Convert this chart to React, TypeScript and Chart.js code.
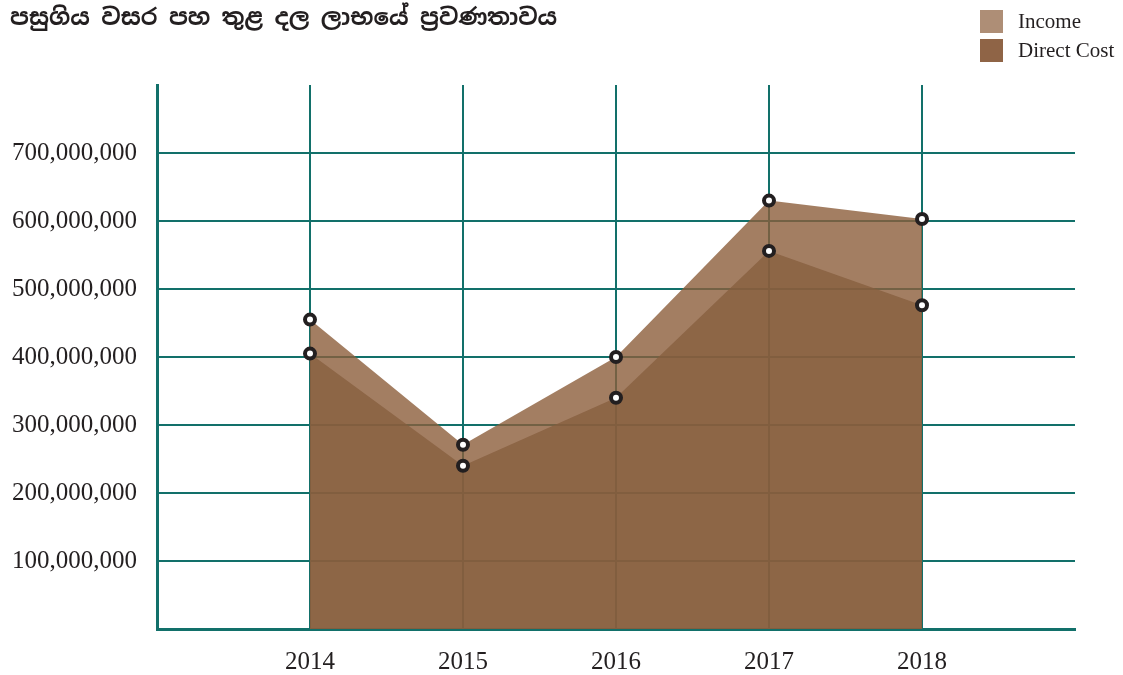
import React, { useEffect, useRef } from "react";
import { Chart, registerables } from "chart.js";

Chart.register(...registerables);

const TITLE = "පසුගිය වසර පහ තුළ දල ලාභයේ ප්‍රවණතාවය";
const YEARS = [2014, 2015, 2016, 2017, 2018];
const INCOME = [455000000, 271000000, 400000000, 630000000, 603000000];
const DIRECT_COST = [405000000, 240000000, 340000000, 556000000, 476000000];
const SERIES_NAMES = ["Income", "Direct Cost"];

const GRID = "#12706a";
const SERIF = "'Liberation Serif', 'Times New Roman', serif";

export default function App() {
  const ref = useRef<HTMLCanvasElement | null>(null);

  useEffect(() => {
    if (!ref.current) return;
    const pts = (vals: number[]) => YEARS.map((y, i) => ({ x: y, y: vals[i] }));
    const pointStyle = {
      pointRadius: 5,
      pointHoverRadius: 5,
      pointBorderWidth: 4,
      pointBorderColor: "#231f20",
      pointBackgroundColor: "#ffffff",
      borderWidth: 0,
      borderColor: "rgba(0,0,0,0)",
      tension: 0,
    };
    const chart = new Chart(ref.current, {
      type: "line",
      data: {
        datasets: [
          {
            label: SERIES_NAMES[1],
            data: pts(DIRECT_COST),
            fill: "origin",
            backgroundColor: "rgba(134,93,62,0.75)",
            ...pointStyle,
          },
          {
            label: SERIES_NAMES[0],
            data: pts(INCOME),
            fill: "origin",
            backgroundColor: "rgba(140,94,59,0.8)",
            ...pointStyle,
          },
        ],
      },
      options: {
        animation: false,
        responsive: false,
        maintainAspectRatio: false,
        layout: { padding: { top: 85, right: 48, left: 0, bottom: 0 } },
        plugins: {
          legend: { display: false },
          tooltip: { enabled: false },
          title: { display: false },
        },
        scales: {
          x: {
            type: "linear",
            min: 2013,
            max: 2019,
            afterFit: (s: any) => {
              s.height = 46;
            },
            ticks: {
              stepSize: 1,
              padding: 18,
              color: "#231f20",
              font: { family: SERIF, size: 25 },
              maxRotation: 0,
              callback: (v: any) => (v >= 2014 && v <= 2018 ? String(v) : ""),
            },
            grid: {
              drawTicks: false,
              lineWidth: 2,
              color: (ctx: any) =>
                ctx.tick && ctx.tick.value >= 2014 && ctx.tick.value <= 2018 ? GRID : "rgba(0,0,0,0)",
            },
            border: { display: true, color: GRID, width: 3 },
          },
          y: {
            min: 0,
            max: 800000000,
            afterFit: (s: any) => {
              s.width = 157;
            },
            ticks: {
              stepSize: 100000000,
              padding: 20,
              color: "#231f20",
              font: { family: SERIF, size: 25 },
              callback: (v: any) =>
                v > 0 && v < 800000000 ? Number(v).toLocaleString("en-US") : "",
            },
            grid: {
              drawTicks: false,
              lineWidth: 2,
              color: (ctx: any) =>
                ctx.tick && ctx.tick.value > 0 && ctx.tick.value < 800000000 ? GRID : "rgba(0,0,0,0)",
            },
            border: { display: true, color: GRID, width: 3 },
          },
        },
      },
    });
    return () => chart.destroy();
  }, []);

  const legendItems = [
    { name: SERIES_NAMES[0], color: "#ae8e76" },
    { name: SERIES_NAMES[1], color: "#8f6446" },
  ];

  return (
    <div style={{ position: "absolute", left: 0, top: 0, width: 1123, height: 675, background: "#fff" }}>
      <canvas ref={ref} width={1123} height={675} style={{ position: "absolute", left: 0, top: 0 }} />
      <div
        style={{
          position: "absolute",
          left: 10,
          top: 2,
          fontFamily: "'Noto Sans Sinhala', 'Noto Sans', sans-serif",
          fontWeight: 700,
          fontSize: 23,
          color: "#231f20",
          whiteSpace: "nowrap",
        }}
      >
        {TITLE}
      </div>
      <div style={{ position: "absolute", left: 980, top: 8 }}>
        {legendItems.map((it) => (
          <div key={it.name} style={{ display: "flex", alignItems: "center", height: 26, marginBottom: 3 }}>
            <div style={{ width: 23, height: 23, background: it.color, marginRight: 15 }} />
            <span style={{ fontFamily: SERIF, fontSize: 21, color: "#231f20", lineHeight: "26px" }}>{it.name}</span>
          </div>
        ))}
      </div>
    </div>
  );
}
